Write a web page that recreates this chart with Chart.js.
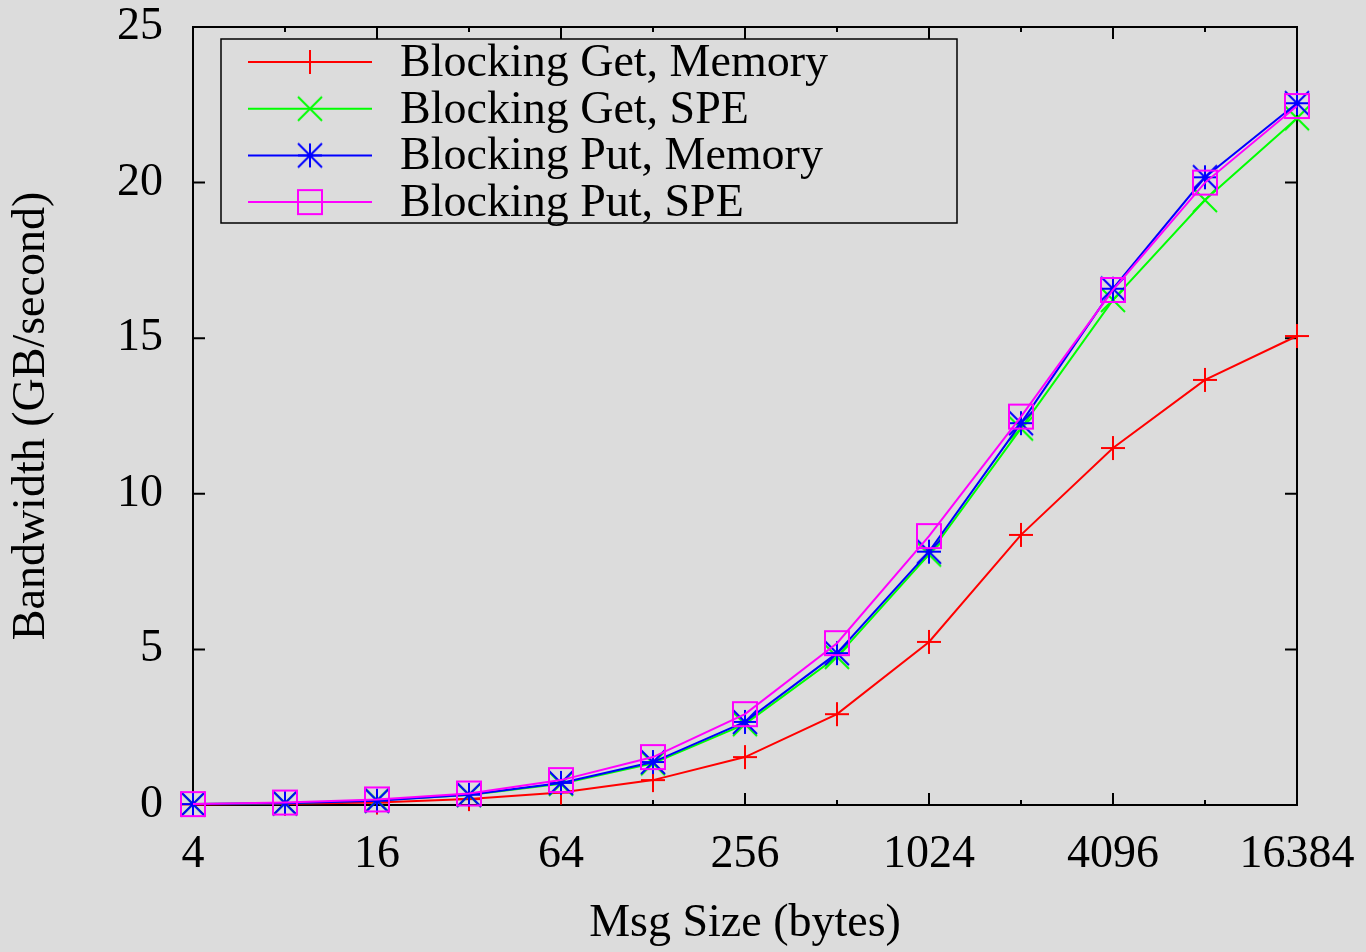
<!DOCTYPE html>
<html>
<head>
<meta charset="utf-8">
<title>Bandwidth vs Msg Size</title>
<script src="https://cdn.jsdelivr.net/npm/chart.js@4.4.1/dist/chart.umd.min.js"></script>
<style>
    html, body { margin: 0; padding: 0; background: #dcdcdc; }
    #grafico { display: block; }
</style>
</head>
<body>
<canvas id="grafico" width="1366" height="952"></canvas>
<script>
// Dados
const msgSizes = [4, 8, 16, 32, 64, 128, 256, 512, 1024, 2048, 4096, 8192, 16384];
const xLabelTicks = [4, 16, 64, 256, 1024, 4096, 16384];
const yTickValues = [0, 5, 10, 15, 20, 25];

const getMemory = [0.02, 0.04, 0.08, 0.19, 0.40, 0.80, 1.54, 2.92, 5.24, 8.68, 11.47, 13.66, 15.07];
const getSPE    = [0.03, 0.06, 0.15, 0.32, 0.68, 1.34, 2.60, 4.76, 8.05, 12.10, 16.23, 19.44, 22.07];
const putMemory = [0.03, 0.06, 0.14, 0.33, 0.71, 1.38, 2.67, 4.88, 8.14, 12.27, 16.59, 20.17, 22.55];
const putSPE    = [0.03, 0.08, 0.18, 0.37, 0.80, 1.54, 2.92, 5.20, 8.64, 12.48, 16.55, 20.00, 22.46];

const seriesLabels = ['Blocking Get, Memory', 'Blocking Get, SPE', 'Blocking Put, Memory', 'Blocking Put, SPE'];
const seriesColors = ['#ff0000', '#00ff00', '#0000ff', '#ff00ff'];
const seriesMarkers = ['plus', 'x', 'star', 'square'];

const FONT = '"Liberation Serif", "DejaVu Serif", serif';

// Marcadores no estilo gnuplot
function makeMarker(kind, color) {
    const half = 12;
    const size = 2 * half + 4;
    const c = document.createElement('canvas');
    c.width = size;
    c.height = size;
    const g = c.getContext('2d');
    const m = size / 2;
    g.strokeStyle = color;
    g.lineWidth = 2;
    g.beginPath();
    if (kind === 'plus' || kind === 'star') {
        g.moveTo(m - half, m); g.lineTo(m + half, m);
        g.moveTo(m, m - half); g.lineTo(m, m + half);
    }
    if (kind === 'x' || kind === 'star') {
        g.moveTo(m - half, m - half); g.lineTo(m + half, m + half);
        g.moveTo(m - half, m + half); g.lineTo(m + half, m - half);
    }
    if (kind === 'square') {
        g.rect(m - half, m - half, 2 * half, 2 * half);
    }
    g.stroke();
    return c;
}

const markerImages = seriesMarkers.map((k, i) => makeMarker(k, seriesColors[i]));
const seriesData = [getMemory, getSPE, putMemory, putSPE];

// Moldura e marcas internas (tics) como no gnuplot
const framePlugin = {
    id: 'frame',
    beforeDatasetsDraw(chart) {
        const { ctx, chartArea: a, scales } = chart;
        ctx.save();
        ctx.strokeStyle = '#000';
        ctx.lineWidth = 2;
        ctx.strokeRect(a.left, a.top, a.right - a.left, a.bottom - a.top);
        ctx.beginPath();
        msgSizes.forEach(v => {
            const x = scales.x.getPixelForValue(v);
            const len = xLabelTicks.includes(v) ? 12 : 5;
            ctx.moveTo(x, a.bottom); ctx.lineTo(x, a.bottom - len);
            ctx.moveTo(x, a.top); ctx.lineTo(x, a.top + len);
        });
        yTickValues.forEach(v => {
            const y = scales.y.getPixelForValue(v);
            ctx.moveTo(a.left, y); ctx.lineTo(a.left + 12, y);
            ctx.moveTo(a.right, y); ctx.lineTo(a.right - 12, y);
        });
        ctx.stroke();
        ctx.restore();
    },
    afterDraw(chart) {
        // Legenda desenhada à mão, com linha e marcador
        const { ctx } = chart;
        ctx.save();
        ctx.strokeStyle = '#000';
        ctx.lineWidth = 1.5;
        ctx.strokeRect(221, 39, 736, 184);
        seriesLabels.forEach((label, i) => {
            const y = 62 + i * 46.7;
            ctx.strokeStyle = seriesColors[i];
            ctx.lineWidth = 2;
            ctx.beginPath();
            ctx.moveTo(248, y);
            ctx.lineTo(372, y);
            ctx.stroke();
            const img = markerImages[i];
            ctx.drawImage(img, 310 - img.width / 2, y - img.height / 2);
            ctx.fillStyle = '#000';
            ctx.font = '46px ' + FONT;
            ctx.textAlign = 'left';
            ctx.textBaseline = 'middle';
            ctx.fillText(label, 400, y + 2);
        });
        ctx.restore();
    }
};

const ctx = document.getElementById('grafico');
const chart = new Chart(ctx, {
    type: 'line',
    data: {
        datasets: seriesLabels.map((label, i) => ({
            label: label,
            data: msgSizes.map((x, j) => ({ x: x, y: seriesData[i][j] })),
            borderColor: seriesColors[i],
            borderWidth: 2,
            pointStyle: markerImages[i],
            pointRadius: 12,
            pointHoverRadius: 12,
            fill: false,
            tension: 0,
            clip: false,
            order: 4 - i
        }))
    },
    options: {
        responsive: false,
        animation: false,
        events: [],
        layout: { padding: { top: 27, right: 69, left: 0, bottom: 0 } },
        plugins: {
            legend: { display: false },
            tooltip: { enabled: false }
        },
        scales: {
            x: {
                type: 'logarithmic',
                min: 4,
                max: 16384,
                afterBuildTicks: (scale) => {
                    scale.ticks = msgSizes.map(v => ({ value: v }));
                },
                afterFit: (scale) => {
                    scale.height = 147;
                    scale.paddingLeft = 0;
                    scale.paddingRight = 0;
                },
                grid: { display: false, drawTicks: false },
                border: { display: false },
                ticks: {
                    autoSkip: false,
                    maxRotation: 0,
                    padding: 22,
                    color: '#000',
                    font: { family: FONT, size: 46 },
                    callback: (v) => xLabelTicks.includes(v) ? String(v) : ''
                },
                title: {
                    display: true,
                    text: 'Msg Size (bytes)',
                    color: '#000',
                    font: { family: FONT, size: 46 },
                    padding: { top: 0, bottom: 0 }
                }
            },
            y: {
                min: 0,
                max: 25,
                afterFit: (scale) => {
                    scale.width = 193;
                    scale.paddingTop = 0;
                    scale.paddingBottom = 0;
                },
                grid: { display: false, drawTicks: false },
                border: { display: false },
                ticks: {
                    stepSize: 5,
                    padding: 30,
                    color: '#000',
                    font: { family: FONT, size: 46 }
                },
                title: {
                    display: true,
                    text: 'Bandwidth (GB/second)',
                    color: '#000',
                    font: { family: FONT, size: 46 },
                    padding: { top: 4, bottom: 0 }
                }
            }
        }
    },
    plugins: [framePlugin]
});
</script>
</body>
</html>
